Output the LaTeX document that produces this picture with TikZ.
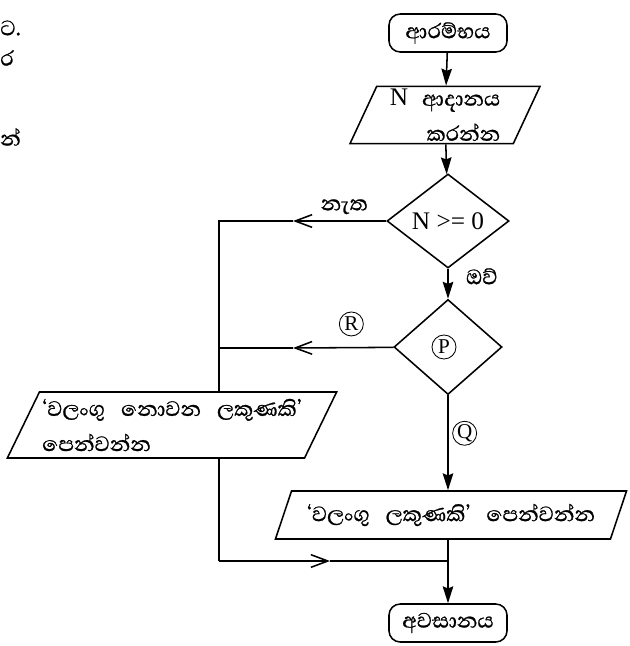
\documentclass[tikz,border=0pt]{standalone}
\usepackage{fontspec}
\setmainfont{Liberation Serif}
\newfontfamily\sinhala[Script=Sinhala,FakeBold=0.8]{Abhaya Libre}
\usetikzlibrary{positioning,shapes.geometric,arrows.meta}

\newcommand\sintext{\sinhala\fontsize{19}{25}\selectfont}
\newcommand\latintext{\rmfamily\fontsize{18}{18}\selectfont}
\newcommand\gap{\hspace{0.6em}}

\begin{document}
\begin{tikzpicture}[x=0.025cm,y=-0.025cm]
	\useasboundingbox (0,0) rectangle (630,646);
	% words of the page margin
	\begin{scope}[every node/.style={anchor=west,inner sep=0pt,font=\sintext}]
		\node (m1) at (0,28) {ට.};
		\node (m2) at (0,58) {ර};
		\node (m3) at (0,137) {න්};
	\end{scope}
	\begin{scope}[every node/.style={line width=1.1pt,draw,font=\sintext},
	              term/.style={rounded corners=8pt,minimum width=2.95cm,minimum height=0.95cm},
	              io/.style={trapezium,trapezium stretches body,inner sep=2pt},
	              dec/.style={diamond,inner sep=0pt},
	              circ/.style={circle,line width=0.6pt,inner sep=0pt,minimum size=0.6cm,font=\rmfamily\fontsize{15}{15}\selectfont}]
		\node[term] (start) at (448,33) {ආරම්භය};
		\node[io,trapezium left angle=65,trapezium right angle=115,minimum width=4.75cm,minimum height=1.35cm,align=right] (inp) at (445,115) {{\latintext N}\hspace{10pt}ආදානය\\කරන්න};
		\node[dec,minimum width=3.05cm,minimum height=2.35cm] (d1) at (448,221) {\latintext N >= 0};
		\node[dec,minimum width=2.7cm,minimum height=2.375cm] (d2) at (448,347) {};
		\node[circ] (p) at (444,347) {P};
		\node[io,trapezium left angle=61,trapezium right angle=119,minimum width=8.125cm,minimum height=1.65cm,align=left] (lbox) at (172,425) {‘වලංගු\gap නොවන\gap ලකුණකි’\\පෙන්වන්න};
		\node[io,trapezium left angle=60,trapezium right angle=120,minimum width=8.775cm,minimum height=1.2cm] (outb) at (451,515) {‘වලංගු\gap ලකුණකි’\gap පෙන්වන්න};
		\node[term] (end) at (448,623) {අවසානය};
	\end{scope}
	\coordinate (cA) at (219,221);
	\coordinate (tipA) at (293,221);
	\coordinate (cB) at (219,348);
	\coordinate (tipB) at (293,348);
	\coordinate (cC) at (219,561);
	\coordinate (tipC) at (330,561);
	\coordinate (cD) at (448,561);
	\begin{scope}[>={Stealth[length=12pt,width=7.5pt,inset=1.5pt]},
	              barb/.style={-{Straight Barb[length=12pt,width=9pt]}},
	              every node/.style={font=\sintext},
	              lbl/.style={circle,draw,line width=0.6pt,inner sep=0pt,minimum size=0.6cm,font=\rmfamily\fontsize{15}{15}\selectfont},
	              every edge/.style={draw,line width=1.1pt}]
		\path [->] (start) edge (inp);
		\path [->] (inp) edge (d1);
		\path [->] (d1) edge node[right=9pt,pos=0.25] {ඔව්} (d2);
		\path [->] (d2) edge node[lbl,right=3pt,pos=0.4] (q) {Q} (d2 |- outb.north);
		\path [->] (outb.south -| end) edge (end);
		\path [barb] (d1) edge node[above=1pt,pos=0.45] {නැත} (tipA);
		\path [barb] (d2) edge node[lbl,above=8pt,pos=0.42] (r) {R} (tipB);
		\path [barb] (cC) edge (tipC);
		\draw[line width=1.1pt] (tipA) -- (cA) -- (lbox.north -| cA);
		\draw[line width=1.1pt] (tipB) -- (cB);
		\draw[line width=1.1pt] (lbox.south -| cA) -- (cC);
		\draw[line width=1.1pt] (tipC) -- (cD);
	\end{scope}
\end{tikzpicture}
\end{document}
